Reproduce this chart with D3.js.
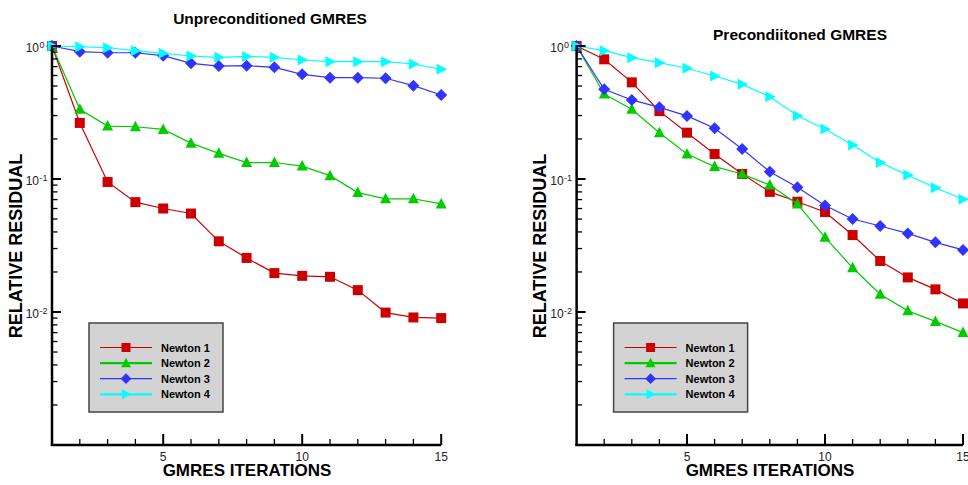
<!DOCTYPE html>
<html>
<head>
<meta charset="utf-8">
<script src="https://cdn.jsdelivr.net/npm/d3@7"></script>
<style>
  body { margin: 0; background: #fff; }
  svg { display: block; font-family: "Liberation Sans", Arial, sans-serif; }
</style>
</head>
<body>
<svg id="chart" width="968" height="485"></svg>
<script>
// iterations on the x axis
var iterations = [1, 2, 3, 4, 5, 6, 7, 8, 9, 10, 11, 12, 13, 14, 15];
var xTickLabels = [5, 10, 15];
var yTickExponents = [0, -1, -2];
var seriesNames = ["Newton 1", "Newton 2", "Newton 3", "Newton 4"];

// Unpreconditioned GMRES
var unpre1 = [1, 0.264, 0.095, 0.067, 0.060, 0.055, 0.034, 0.0255, 0.0196, 0.0187, 0.0184, 0.0146, 0.0099, 0.0091, 0.0090];
var unpre2 = [1, 0.334, 0.250, 0.247, 0.236, 0.186, 0.156, 0.133, 0.133, 0.125, 0.106, 0.079, 0.071, 0.071, 0.065];
var unpre3 = [1, 0.906, 0.890, 0.890, 0.846, 0.741, 0.707, 0.711, 0.691, 0.612, 0.578, 0.578, 0.572, 0.503, 0.428];
var unpre4 = [1, 0.988, 0.970, 0.922, 0.881, 0.841, 0.822, 0.835, 0.822, 0.785, 0.762, 0.762, 0.762, 0.732, 0.668];

// Preconditioned GMRES
var pre1 = [1, 0.794, 0.533, 0.324, 0.223, 0.154, 0.109, 0.080, 0.0675, 0.0565, 0.0379, 0.0242, 0.0182, 0.0148, 0.0116];
var pre2 = [1, 0.436, 0.334, 0.223, 0.154, 0.124, 0.109, 0.090, 0.0649, 0.0364, 0.0215, 0.0136, 0.0102, 0.0085, 0.0070];
var pre3 = [1, 0.472, 0.393, 0.346, 0.298, 0.241, 0.168, 0.1135, 0.0866, 0.0632, 0.050, 0.0443, 0.039, 0.0334, 0.0293];
var pre4 = [1, 0.922, 0.817, 0.749, 0.680, 0.595, 0.515, 0.416, 0.299, 0.238, 0.180, 0.133, 0.107, 0.086, 0.0704];

var colors = ["#cc0000", "#00cc00", "#3333ff", "#00ffff"];
var legendWidths = [1.2, 2.2, 1.2, 2.2];

// marker shapes
function marker(i, k) {
  k = k || 1;
  if (i === 0) { var h = 5 * k; return "M" + (-h) + "," + (-h) + "h" + (2 * h) + "v" + (2 * h) + "h" + (-2 * h) + "Z"; }
  if (i === 1) return "M0," + (-6 * k) + "L" + (5.5 * k) + "," + (4.5 * k) + "L" + (-5.5 * k) + "," + (4.5 * k) + "Z";
  if (i === 2) return "M0," + (-6 * k) + "L" + (6 * k) + ",0L0," + (6 * k) + "L" + (-6 * k) + ",0Z";
  return "M" + (6 * k) + ",0L" + (-4.5 * k) + "," + (-5.5 * k) + "L" + (-4.5 * k) + "," + (5.5 * k) + "Z";
}

var svg = d3.select("#chart");

function drawPanel(opt) {
  var x = d3.scaleLinear().domain([1, 15]).range(opt.xRange);
  var y = d3.scaleLog().domain([1e-3, 1]).range([445, 46]);
  var g = svg.append("g");

  // series
  var line = d3.line()
    .x(function(d, i) { return x(iterations[i]); })
    .y(function(d) { return y(d); });

  opt.series.forEach(function(s, si) {
    g.append("path")
      .attr("d", line(s))
      .attr("fill", "none")
      .attr("stroke", colors[si])
      .attr("stroke-width", 1.2);
    g.selectAll(null)
      .data(s)
      .enter()
      .append("path")
      .attr("transform", function(d, i) { return "translate(" + x(iterations[i]) + "," + y(d) + ")"; })
      .attr("d", marker(si))
      .attr("fill", colors[si]);
  });

  // y axis, ticks go inwards
  var x0 = opt.xRange[0];
  g.append("line")
    .attr("x1", x0).attr("x2", x0)
    .attr("y1", y(1) - 1).attr("y2", 446)
    .attr("stroke", "#000").attr("stroke-width", 2.5);
  var yTicks = [];
  [-3, -2, -1].forEach(function(e) {
    for (var m = 1; m < 10; m++) yTicks.push({ v: m * Math.pow(10, e), major: m === 1 });
  });
  yTicks.push({ v: 1, major: true });
  g.selectAll(null)
    .data(yTicks.filter(function(t) { return t.v > 1e-3; }))
    .enter()
    .append("line")
    .attr("x1", x0).attr("x2", function(t) { return x0 + (t.major ? 9 : 5.5); })
    .attr("y1", function(t) { return y(t.v); })
    .attr("y2", function(t) { return y(t.v); })
    .attr("stroke", "#000")
    .attr("stroke-width", function(t) { return t.major ? 2 : 1.3; });

  yTickExponents.forEach(function(e) {
    var yy = y(Math.pow(10, e));
    g.append("text")
      .attr("x", x0 - 13).attr("y", yy + 5.5)
      .attr("text-anchor", "end")
      .attr("font-size", "12px")
      .attr("fill", "#222")
      .text("10");
    g.append("text")
      .attr("x", x0 - 12.5).attr("y", yy + 2)
      .attr("font-size", "9px")
      .attr("fill", "#222")
      .text(e === 0 ? "0" : "-" + (-e));
  });

  // x axis, ticks go inwards
  g.append("line")
    .attr("x1", x0 - 1.2).attr("x2", opt.xRange[1])
    .attr("y1", 445).attr("y2", 445)
    .attr("stroke", "#000").attr("stroke-width", 2.5);
  g.selectAll(null)
    .data(iterations.slice(1))
    .enter()
    .append("line")
    .attr("x1", function(d) { return x(d); })
    .attr("x2", function(d) { return x(d); })
    .attr("y1", 445)
    .attr("y2", function(d) { return xTickLabels.indexOf(d) >= 0 ? 434 : 439; })
    .attr("stroke", "#000")
    .attr("stroke-width", function(d) { return xTickLabels.indexOf(d) >= 0 ? 2 : 1.3; });
  g.selectAll(null)
    .data(xTickLabels)
    .enter()
    .append("text")
    .attr("x", function(d) { return x(d); })
    .attr("y", 461)
    .attr("text-anchor", "middle")
    .attr("font-size", "12px")
    .attr("fill", "#222")
    .text(function(d) { return d; });

  // titles
  g.append("text")
    .attr("x", opt.titleX).attr("y", opt.titleY)
    .attr("text-anchor", "middle")
    .attr("font-size", "15.5px").attr("font-weight", "bold")
    .text(opt.title);
  g.append("text")
    .attr("x", opt.xLabelX).attr("y", 476)
    .attr("text-anchor", "middle")
    .attr("font-size", "17px").attr("font-weight", "bold")
    .text("GMRES ITERATIONS");
  g.append("text")
    .attr("transform", "translate(" + opt.yLabelX + ",246) rotate(-90)")
    .attr("text-anchor", "middle")
    .attr("font-size", "18px").attr("font-weight", "bold")
    .text("RELATIVE RESIDUAL");

  // legend
  var lg = g.append("g").attr("transform", "translate(" + (x0 + 37) + ",323)");
  lg.append("rect")
    .attr("width", 134).attr("height", 89)
    .attr("fill", "#d3d3d3")
    .attr("stroke", "#444").attr("stroke-width", 1.5);
  seriesNames.forEach(function(name, si) {
    var ly = 24.5 + si * 15.6;
    lg.append("line")
      .attr("x1", 11).attr("x2", 63)
      .attr("y1", ly).attr("y2", ly)
      .attr("stroke", colors[si]).attr("stroke-width", legendWidths[si]);
    lg.append("path")
      .attr("transform", "translate(37," + ly + ")")
      .attr("d", marker(si, 0.9))
      .attr("fill", colors[si]);
    lg.append("text")
      .attr("x", 72).attr("y", ly + 4)
      .attr("font-size", "11px").attr("font-weight", "bold")
      .text(name);
  });
}

drawPanel({
  xRange: [52, 441.2],
  series: [unpre1, unpre2, unpre3, unpre4],
  title: "Unpreconditioned GMRES",
  titleX: 270, titleY: 24,
  xLabelX: 247, yLabelX: 22
});
drawPanel({
  xRange: [576.6, 963],
  series: [pre1, pre2, pre3, pre4],
  title: "Precondiitoned GMRES",
  titleX: 800, titleY: 40,
  xLabelX: 770, yLabelX: 546
});
</script>
</body>
</html>
